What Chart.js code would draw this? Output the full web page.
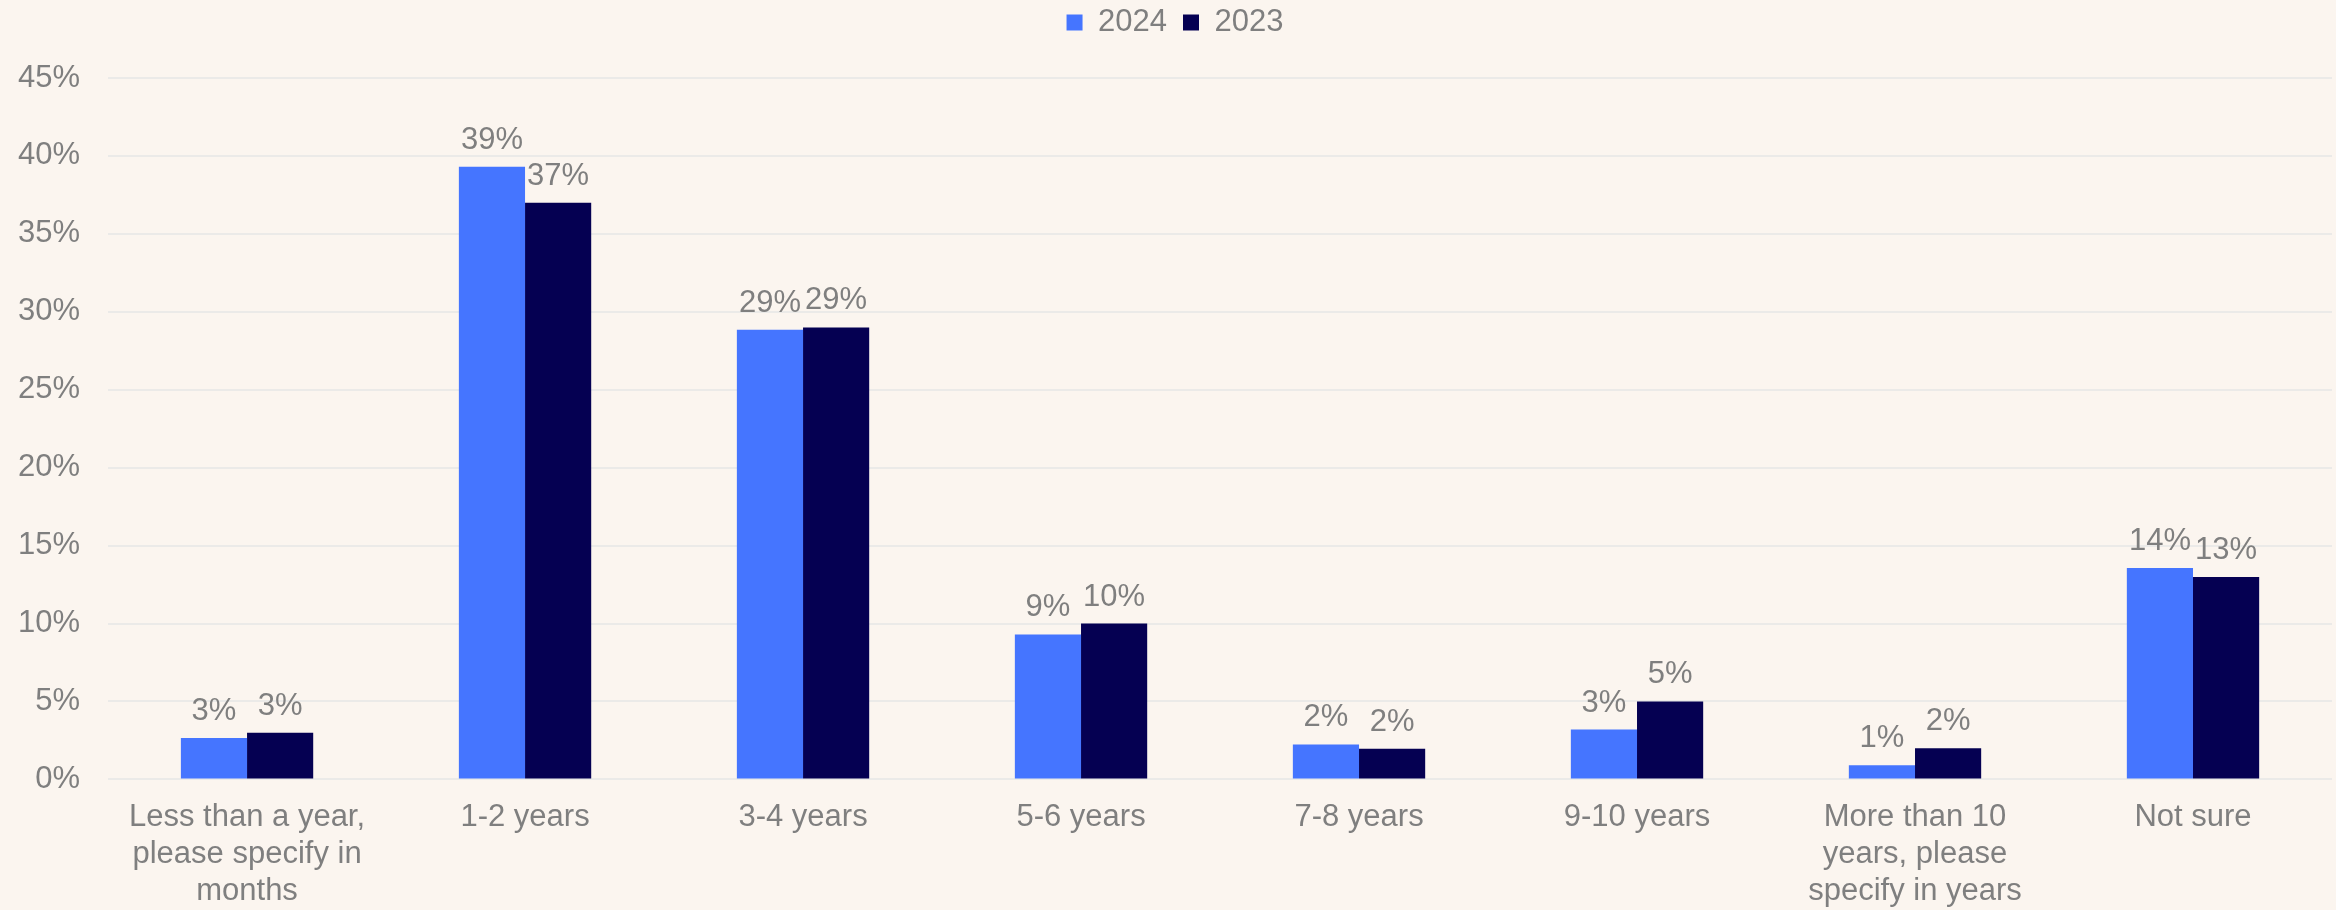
<!DOCTYPE html>
<html>
<head>
<meta charset="utf-8">
<script src="https://cdn.jsdelivr.net/npm/chart.js@4"></script>
<style>
  html, body { margin: 0; padding: 0; background: #FBF5EF; }
  #wrap { width: 2336px; height: 910px; }
</style>
</head>
<body>
<div id="wrap"><canvas id="tenure"></canvas></div>
<script>
var categories = [
  ["Less than a year,", "please specify in", "months"],
  "1-2 years",
  "3-4 years",
  "5-6 years",
  "7-8 years",
  "9-10 years",
  ["More than 10", "years, please", "specify in years"],
  "Not sure"
];
var values2024 = [2.65, 39.3, 28.85, 9.3, 2.24, 3.2, 0.9, 13.56];
var values2023 = [3.0, 37.0, 29.0, 10.0, 1.96, 5.0, 2.0, 12.98];
var yTicks = [0, 5, 10, 15, 20, 25, 30, 35, 40, 45];

var grey = "#7F7F7F";
var fontFamily = "'Liberation Sans', Arial, sans-serif";

// percent labels over every bar
var barLabels = {
  id: 'barLabels',
  afterDatasetsDraw: function(chart) {
    var ctx = chart.ctx;
    ctx.save();
    ctx.font = "31px " + fontFamily;
    ctx.fillStyle = grey;
    ctx.textAlign = "center";
    ctx.textBaseline = "alphabetic";
    chart.data.datasets.forEach(function(ds, i) {
      chart.getDatasetMeta(i).data.forEach(function(bar, j) {
        ctx.fillText(Math.round(ds.data[j]) + "%", bar.x, bar.y - 18);
      });
    });
    ctx.restore();
  }
};

// a bit more room under the legend
var legendGap = {
  id: 'legendGap',
  beforeInit: function(chart) {
    var fit = chart.legend.fit;
    chart.legend.fit = function() {
      fit.bind(chart.legend)();
      this.height += 30;
    };
  }
};

var tenureCtx = document.getElementById("tenure");

var tenure = new Chart(tenureCtx, {
  type: 'bar',
  data: {
    labels: categories,
    datasets: [
      {
        label: "2024",
        data: values2024,
        backgroundColor: "#4575FF",
        borderWidth: 0
      },
      {
        label: "2023",
        data: values2023,
        backgroundColor: "#050052",
        borderWidth: 0
      }]
  },
  options: {
    responsive: true,
    maintainAspectRatio: false,
    animation: false,
    layout: { padding: { left: 18, right: 4, top: -9, bottom: 0 } },
    datasets: {
      bar: { categoryPercentage: 0.476, barPercentage: 1 }
    },
    plugins: {
      legend: {
        position: 'top',
        labels: {
          boxWidth: 16,
          boxHeight: 16,
          padding: 16,
          color: grey,
          font: { family: fontFamily, size: 31 }
        }
      },
      tooltip: { enabled: false }
    },
    scales: {
      x: {
        grid: { display: false, drawTicks: false },
        border: { display: false },
        afterFit: function(axis) { axis.height -= 19; },
        ticks: {
          color: grey,
          maxRotation: 0,
          autoSkip: false,
          padding: 19,
          font: { family: fontFamily, size: 31, lineHeight: 1.2 }
        }
      },
      y: {
        min: 0,
        max: 45,
        afterBuildTicks: function(axis) {
          axis.ticks = yTicks.map(function(v) { return { value: v }; });
        },
        afterFit: function(axis) { axis.width -= 28; },
        grid: { color: "#EBEAE8", lineWidth: 2, drawTicks: false },
        border: { display: false },
        ticks: {
          color: grey,
          padding: 28,
          font: { family: fontFamily, size: 31 },
          callback: function(v) { return v + "%"; }
        }
      }
    }
  },
  plugins: [barLabels, legendGap]
});
</script>
</body>
</html>
